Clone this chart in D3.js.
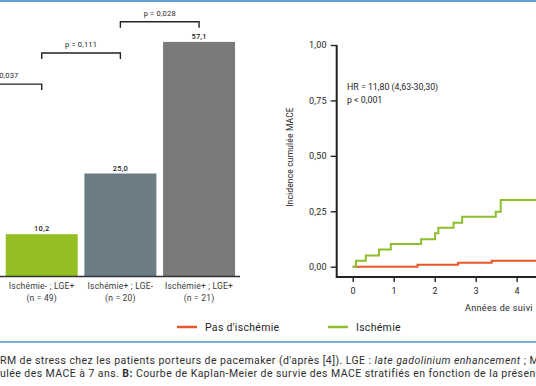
<!DOCTYPE html>
<html>
<head>
<meta charset="utf-8">
<script src="https://cdn.jsdelivr.net/npm/d3@7"></script>
<style>
  body { margin: 0; background: #fff; }
  svg { display: block; font-family: Roboto, "Noto Sans", sans-serif; }
</style>
</head>
<body>
<svg id="canvas" width="536" height="386"></svg>
<script>
// bar chart (panel A)
let barCategories = ["Ischémie- ; LGE-", "Ischémie- ; LGE+", "Ischémie+ ; LGE-", "Ischémie+ ; LGE+"]
let barCounts = [236, 49, 20, 21]
let barValues = [1.0, 10.2, 25.0, 57.1]
let barColors = ["#e8562a", "#93bf22", "#6d7c84", "#7a7a7a"]

// p-value brackets: [from, to, label, level]
let brackets = [
    [0, 1, "p = 0,037", 46.8],
    [1, 2, "p = 0,111", 54.4],
    [2, 3, "p = 0,028", 62.0]
]

// Kaplan-Meier (panel B)
let ischTimes  = [0, 0.08, 0.32, 0.64, 0.93, 1.67, 2.01, 2.09, 2.46, 2.67, 3.49, 3.61, 7]
let ischValues = [0, 0.027, 0.051, 0.078, 0.102, 0.124, 0.151, 0.176, 0.198, 0.225, 0.248, 0.301, 0.301]
let pasTimes  = [0, 1.58, 2.57, 3.39, 7]
let pasValues = [0, 0.009, 0.018, 0.027, 0.027]

let yTicks = [0, 0.25, 0.5, 0.75, 1]
let xTicks = [0, 1, 2, 3, 4, 5, 6, 7]

let legendLabels = ["Pas d'ischémie", "Ischémie"]
let legendColors = ["#e8562a", "#8dbf2b"]

let captionLines = [
    ["RM de stress chez les patients porteurs de pacemaker (d'après [4]). LGE : ", "late gadolinium enhancement", " ; MACE : major adverse cardiac events"],
    ["ulée des MACE à 7 ans. ", "B:", " Courbe de Kaplan-Meier de survie des MACE stratifiés en fonction de la présence d'une ischémie"]
]

let canvas = d3.select("#canvas")
let comma = (v, f) => d3.format(f)(v).replace(".", ",")
let ink = "#262626"

// blue rules
canvas.append("rect").attr("x", 0).attr("y", 0).attr("width", 536).attr("height", 2).attr("fill", "#5f9fd6")
canvas.append("rect").attr("x", 0).attr("y", 341).attr("width", 536).attr("height", 2).attr("fill", "#7eaace")

// ---------- bars ----------
let xBar = d3.scaleBand()
    .domain(barCategories)
    .range([-76.3, 238.4])
    .paddingInner(0.085)
    .paddingOuter(0.0425)

let yBar = d3.scaleLinear()
    .domain([0, 60])
    .range([276, 30])

canvas.selectAll(".bar")
    .data(barValues)
    .enter()
    .append("rect")
    .attr("class", "bar")
    .attr("x", (d, i) => xBar(barCategories[i]))
    .attr("y", (d) => yBar(d))
    .attr("width", xBar.bandwidth())
    .attr("height", (d) => yBar(0) - yBar(d))
    .attr("fill", (d, i) => barColors[i])

canvas.selectAll(".barval")
    .data(barValues)
    .enter()
    .append("text")
    .attr("x", (d, i) => xBar(barCategories[i]) + xBar.bandwidth() / 2)
    .attr("y", (d) => yBar(d) - 3)
    .attr("text-anchor", "middle")
    .attr("font-size", 7.5)
    .attr("letter-spacing", 0.2)
    .attr("font-weight", 500)
    .attr("fill", ink)
    .text((d) => comma(d, ".1f"))

canvas.append("line")
    .attr("x1", 0).attr("x2", 240)
    .attr("y1", yBar(0) + 0.5).attr("y2", yBar(0) + 0.5)
    .attr("stroke", "#333").attr("stroke-width", 1.5)

let catLabels = canvas.selectAll(".cat")
    .data(barCategories)
    .enter()
    .append("text")
    .attr("text-anchor", "middle")
    .attr("font-size", 8.5)
    .attr("letter-spacing", 0.2)
    .attr("fill", "#3a3a3a")
catLabels.append("tspan")
    .attr("x", (d) => xBar(d) + xBar.bandwidth() / 2)
    .attr("y", 289)
    .text((d) => d)
catLabels.append("tspan")
    .attr("x", (d) => xBar(d) + xBar.bandwidth() / 2)
    .attr("y", 301)
    .text((d, i) => "(n = " + barCounts[i] + ")")

brackets.forEach((b) => {
    let x1 = xBar(barCategories[b[0]]) + xBar.bandwidth() / 2
    let x2 = xBar(barCategories[b[1]]) + xBar.bandwidth() / 2
    let y = yBar(b[3])
    canvas.append("path")
        .attr("d", "M" + x1 + "," + (y + 6) + "V" + y + "H" + x2 + "V" + (y + 6))
        .attr("fill", "none")
        .attr("stroke", "#222")
        .attr("stroke-width", 1.4)
    canvas.append("text")
        .attr("x", (x1 + x2) / 2)
        .attr("y", y - 6)
        .attr("text-anchor", "middle")
        .attr("font-size", 7.5)
        .attr("letter-spacing", 0.2)
        .attr("fill", ink)
        .text(b[2])
})

// ---------- Kaplan-Meier ----------
let xKM = d3.scaleLinear().domain([0, 7]).range([352.7, 352.7 + 7 * 41])
let yKM = d3.scaleLinear().domain([0, 1]).range([266.7, 45])
let axisX = 336.7
let axisY = 277

let gy = canvas.append("g")
    .attr("transform", "translate(" + axisX + ",0)")
    .call(d3.axisLeft(yKM).tickValues(yTicks).tickSize(6).tickPadding(4).tickFormat((d) => comma(d, ".2f")))
gy.select(".domain").remove()

let gx = canvas.append("g")
    .attr("transform", "translate(0," + axisY + ")")
    .call(d3.axisBottom(xKM).tickValues(xTicks).tickSize(5).tickPadding(6).tickFormat(d3.format("d")))
gx.select(".domain").remove()

canvas.selectAll(".tick line").attr("stroke", "#222").attr("stroke-width", 1.4)
canvas.selectAll(".tick text")
    .attr("font-size", 9)
    .attr("letter-spacing", 0.2)
    .attr("fill", ink)
    .attr("font-family", "Roboto, sans-serif")

canvas.append("path")
    .attr("d", "M" + axisX + "," + yKM(1) + "V" + axisY + "H" + 540)
    .attr("fill", "none")
    .attr("stroke", "#222")
    .attr("stroke-width", 2)

let stepLine = d3.line()
    .x((d) => xKM(d[0]))
    .y((d) => yKM(d[1]))
    .curve(d3.curveStepAfter)

canvas.append("path")
    .datum(d3.zip(pasTimes, pasValues))
    .attr("d", stepLine)
    .attr("fill", "none")
    .attr("stroke", legendColors[0])
    .attr("stroke-width", 2)

canvas.append("path")
    .datum(d3.zip(ischTimes, ischValues))
    .attr("d", stepLine)
    .attr("fill", "none")
    .attr("stroke", legendColors[1])
    .attr("stroke-width", 2)

canvas.append("text")
    .attr("transform", "translate(293,157) rotate(-90)")
    .attr("text-anchor", "middle")
    .attr("font-size", 8.5)
    .attr("letter-spacing", 0.15)
    .attr("fill", ink)
    .text("Incidence cumulée MACE")

canvas.append("text")
    .attr("x", 465).attr("y", 311)
    .attr("font-size", 9)
    .attr("letter-spacing", 0.35)
    .attr("fill", ink)
    .text("Années de suivi")

canvas.append("text")
    .attr("x", 347).attr("y", 90)
    .attr("font-size", 8.8)
    .attr("fill", ink)
    .text("HR = 11,80 (4,63-30,30)")
canvas.append("text")
    .attr("x", 347).attr("y", 103)
    .attr("font-size", 8.8)
    .attr("fill", ink)
    .text("p < 0,001")

// legend
let legendX = [177, 328]
legendLabels.forEach((l, i) => {
    canvas.append("line")
        .attr("x1", legendX[i]).attr("x2", legendX[i] + 20)
        .attr("y1", 327).attr("y2", 327)
        .attr("stroke", legendColors[i]).attr("stroke-width", 2.5)
    canvas.append("text")
        .attr("x", legendX[i] + 28).attr("y", 331)
        .attr("font-size", 10.5)
        .attr("letter-spacing", 0.3)
        .attr("fill", ink)
        .text(l)
})

// caption
captionLines.forEach((parts, i) => {
    let t = canvas.append("text")
        .attr("x", 0).attr("y", 363.5 + i * 13)
        .attr("font-size", 10.5)
        .attr("letter-spacing", 0.44)
        .attr("fill", "#2e2e2e")
    parts.forEach((p, j) => {
        let s = t.append("tspan").text(p)
        if (i === 0 && j === 1) s.attr("font-style", "italic")
        if (i === 1 && j === 1) s.attr("font-weight", "bold")
    })
})
</script>
</body>
</html>
